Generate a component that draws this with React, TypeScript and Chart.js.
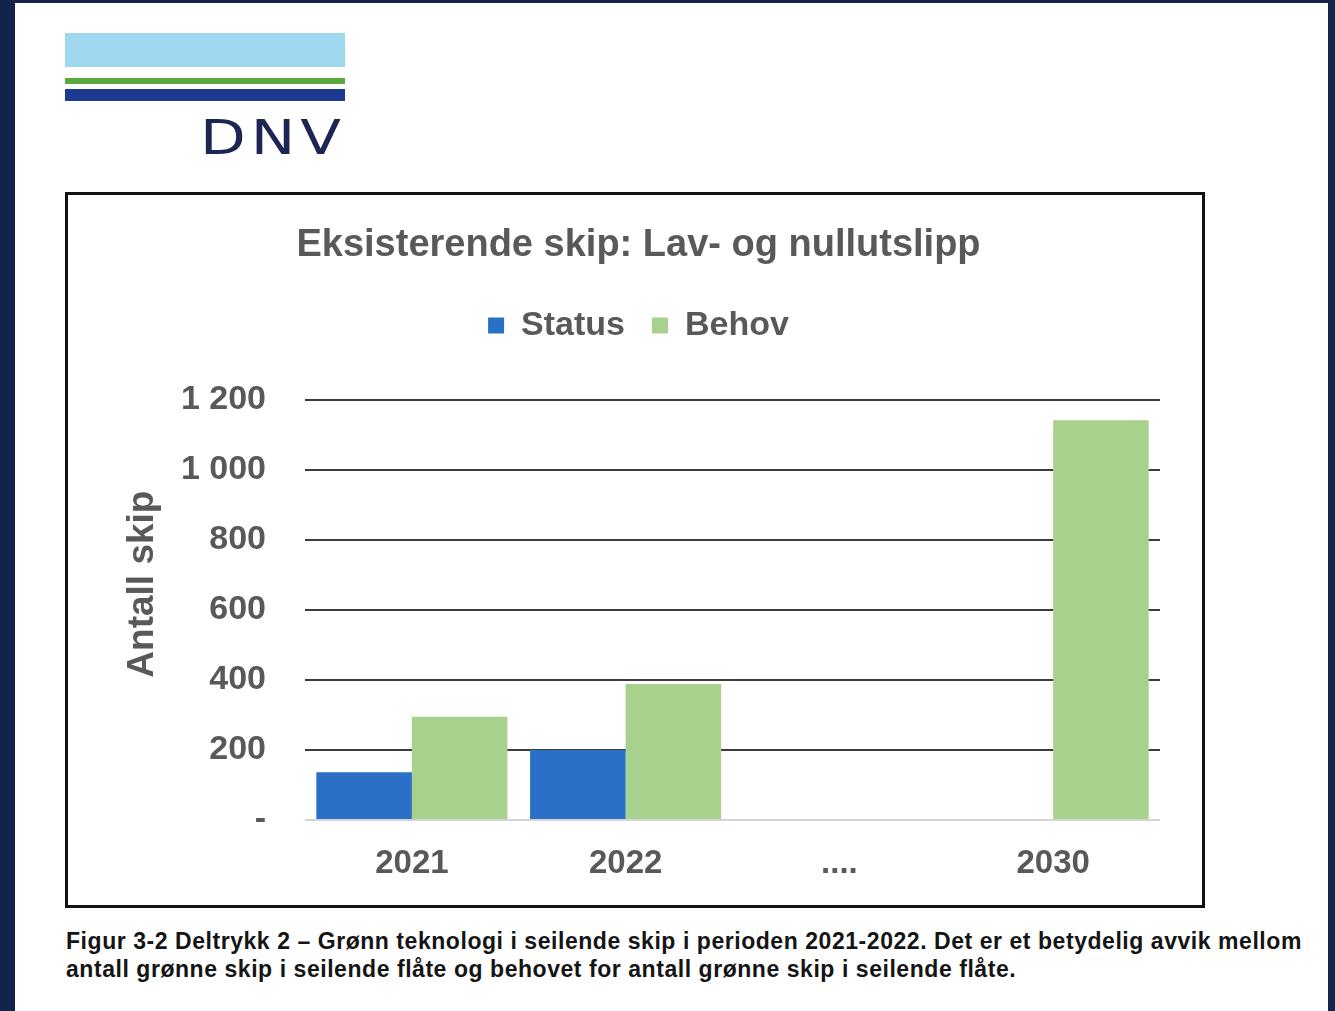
import React, { useEffect, useRef } from "react";
import { Chart, registerables } from "chart.js";

Chart.register(...registerables);

const categories = ["2021", "2022", "....", "2030"];
const statusValues: (number | null)[] = [136, 200, null, null];
const behovValues: (number | null)[] = [295, 388, null, 1141];
const yTickLabels: Record<number, string> = {
  0: "-",
  200: "200",
  400: "400",
  600: "600",
  800: "800",
  1000: "1 000",
  1200: "1 200",
};
const chartTitle = "Eksisterende skip: Lav- og nullutslipp";
const yAxisTitle = "Antall skip";
const seriesNames = ["Status", "Behov"];
const captionLine1 =
  "Figur 3-2 Deltrykk 2 – Grønn teknologi i seilende skip i perioden 2021-2022. Det er et betydelig avvik mellom";
const captionLine2 = "antall grønne skip i seilende flåte og behovet for antall grønne skip i seilende flåte.";

const FONT = "'Liberation Sans', Arial, sans-serif";
const GRAY = "#595959";

const legendSpacer = {
  id: "legendSpacer",
  beforeLayout(chart: any) {
    const lg = chart.legend;
    if (lg && !lg.__spaced) {
      const orig = lg.fit;
      lg.fit = function (this: any) {
        orig.call(this);
        this.height += 47;
      };
      lg.__spaced = true;
    }
  },
};

function BarChart() {
  const ref = useRef<HTMLCanvasElement | null>(null);
  useEffect(() => {
    if (!ref.current) return;
    const chart = new Chart(ref.current, {
      type: "bar",
      data: {
        labels: categories,
        datasets: [
          {
            label: seriesNames[0],
            data: statusValues,
            backgroundColor: "#2970c6",
            borderWidth: 0,
          },
          {
            label: seriesNames[1],
            data: behovValues,
            backgroundColor: "#a9d18e",
            borderWidth: 0,
          },
        ],
      },
      plugins: [legendSpacer],
      options: {
        animation: false,
        responsive: false,
        maintainAspectRatio: false,
        devicePixelRatio: 1,
        layout: { padding: { left: 49, right: 42, top: 0, bottom: 0 } },
        datasets: {
          bar: { categoryPercentage: 0.894, barPercentage: 1 },
        },
        plugins: {
          tooltip: { enabled: false },
          title: {
            display: true,
            text: chartTitle,
            color: GRAY,
            font: { family: FONT, size: 38, weight: "bold" },
            padding: { top: 28, bottom: 13 },
          },
          legend: {
            display: true,
            position: "top",
            labels: {
              color: GRAY,
              font: { family: FONT, size: 34, weight: "bold" },
              boxWidth: 16,
              boxHeight: 16,
              padding: 27,
            },
          },
        },
        scales: {
          x: {
            grid: { display: false, drawTicks: false },
            border: { display: false },
            ticks: {
              color: GRAY,
              font: { family: FONT, size: 33, weight: "bold" },
              padding: 24,
              maxRotation: 0,
            },
            afterFit: (scale: any) => {
              scale.height = 85;
            },
          },
          y: {
            min: 0,
            max: 1200,
            ticks: {
              stepSize: 200,
              color: GRAY,
              font: { family: FONT, size: 34, weight: "bold" },
              padding: 39,
              callback: (v: any) => yTickLabels[Number(v)] ?? String(v),
            },
            grid: {
              drawTicks: false,
              lineWidth: 2,
              color: (ctx: any) => (ctx.tick && ctx.tick.value === 0 ? "#d4d4d4" : "#3c3c3c"),
            },
            border: { display: false },
            title: {
              display: true,
              text: "\u00a0\u00a0\u00a0\u00a0\u00a0" + yAxisTitle,
              color: GRAY,
              font: { family: FONT, size: 37, weight: "bold" },
            },
            afterFit: (scale: any) => {
              scale.width = 188;
            },
          },
        },
      },
    });
    return () => chart.destroy();
  }, []);
  return <canvas ref={ref} width={1134} height={710} style={{ display: "block", width: 1134, height: 710 }} />;
}

export default function App() {
  return (
    <div
      style={{
        position: "fixed",
        left: 0,
        top: 0,
        width: 1335,
        height: 1011,
        background: "#13234b",
        overflow: "hidden",
        fontFamily: FONT,
      }}
    >
      <div style={{ position: "absolute", left: 15, top: 3, width: 1313, height: 1020, background: "#ffffff" }} />
      {/* logo */}
      <div style={{ position: "absolute", left: 65, top: 33, width: 280, height: 34, background: "#9fd8ee" }} />
      <div style={{ position: "absolute", left: 65, top: 78, width: 280, height: 6, background: "#5aa93f" }} />
      <div style={{ position: "absolute", left: 65, top: 89, width: 280, height: 12, background: "#1d3a92" }} />
      <div
        style={{
          position: "absolute",
          left: 200,
          top: 107,
          fontSize: 48,
          lineHeight: "60px",
          letterSpacing: 4,
          color: "#1c2654",
          fontFamily: "'DejaVu Sans', sans-serif",
          transform: "scaleX(1.24)",
          transformOrigin: "left top",
        }}
      >
        DNV
      </div>
      {/* chart box */}
      <div
        style={{
          position: "absolute",
          left: 65,
          top: 192,
          width: 1134,
          height: 710,
          border: "3px solid #111",
          background: "#fff",
        }}
      >
        <BarChart />
      </div>
      {/* caption */}
      <div
        style={{
          position: "absolute",
          left: 66,
          top: 927,
          fontSize: 23,
          lineHeight: "28px",
          letterSpacing: 0.55,
          fontWeight: "bold",
          color: "#151515",
          whiteSpace: "nowrap",
        }}
      >
        <div>{captionLine1}</div>
        <div>{captionLine2}</div>
      </div>
    </div>
  );
}
